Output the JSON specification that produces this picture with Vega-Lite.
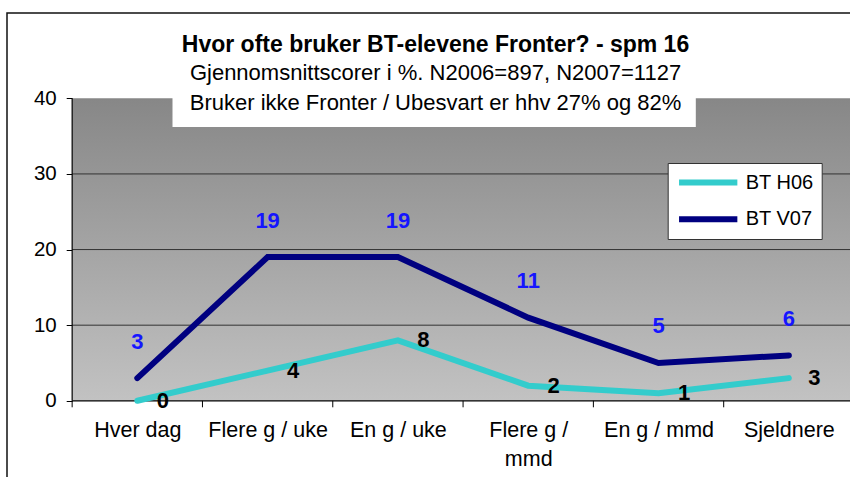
{
  "$schema": "https://vega.github.io/schema/vega-lite/v6.json",
  "autosize": "none",
  "width": 847,
  "height": 470,
  "padding": {"left": 7, "top": 13, "right": 0, "bottom": 0},
  "background": "white",
  "config": {
    "font": "Liberation Sans",
    "view": {"stroke": "#111", "strokeWidth": 1.5}
  },
  "title": {
    "text": "Hvor ofte bruker BT-elevene Fronter? - spm 16",
    "subtitle": ["Gjennomsnittscorer i %. N2006=897, N2007=1127", "Bruker ikke Fronter / Ubesvart er hhv 27% og 82%"],
    "anchor": "middle",
    "frame": "group",
    "orient": "top",
    "offset": -101,
    "dx": 5,
    "font": "Liberation Sans",
    "fontSize": 23,
    "fontWeight": "bold",
    "color": "black",
    "subtitleFont": "Liberation Sans",
    "subtitleFontSize": 22,
    "subtitleColor": "black",
    "subtitleLineHeight": 30,
    "subtitlePadding": 6
  },
  "datasets": {
    "series": [
      {"kategori": "Hver dag", "pos": 0, "serie": "BT H06", "verdi": 0},
      {"kategori": "Flere g / uke", "pos": 1, "serie": "BT H06", "verdi": 4},
      {"kategori": "En g / uke", "pos": 2, "serie": "BT H06", "verdi": 8},
      {"kategori": "Flere g / mmd", "pos": 3, "serie": "BT H06", "verdi": 2},
      {"kategori": "En g / mmd", "pos": 4, "serie": "BT H06", "verdi": 1},
      {"kategori": "Sjeldnere", "pos": 5, "serie": "BT H06", "verdi": 3},
      {"kategori": "Hver dag", "pos": 0, "serie": "BT V07", "verdi": 3},
      {"kategori": "Flere g / uke", "pos": 1, "serie": "BT V07", "verdi": 19},
      {"kategori": "En g / uke", "pos": 2, "serie": "BT V07", "verdi": 19},
      {"kategori": "Flere g / mmd", "pos": 3, "serie": "BT V07", "verdi": 11},
      {"kategori": "En g / mmd", "pos": 4, "serie": "BT V07", "verdi": 5},
      {"kategori": "Sjeldnere", "pos": 5, "serie": "BT V07", "verdi": 6}
    ],
    "grid": [{"v": 10}, {"v": 20}, {"v": 30}],
    "xticks": [{"t": -0.5}, {"t": 0.5}, {"t": 1.5}, {"t": 2.5}, {"t": 3.5}, {"t": 4.5}, {"t": 5.5}],
    "one": [{"id": 1}]
  },
  "data": {"name": "series"},
  "layer": [
    {
      "data": {"name": "one"},
      "mark": {"type": "rect", "color": {"gradient": "linear", "x1": 0, "y1": 0, "x2": 0, "y2": 1, "stops": [{"offset": 0, "color": "#878787"}, {"offset": 1, "color": "#c2c2c2"}]}},
      "encoding": {
        "x": {"datum": -0.5, "type": "quantitative", "scale": {"domain": [-1, 5.5], "nice": false, "zero": false},
          "axis": {"values": [0, 1, 2, 3, 4, 5], "orient": "bottom", "offset": -82.2, "domain": false, "ticks": false, "grid": false, "title": null,
            "labelExpr": "datum.value == 0 ? 'Hver dag' : datum.value == 1 ? 'Flere g / uke' : datum.value == 2 ? 'En g / uke' : datum.value == 3 ? ['Flere g /', 'mmd'] : datum.value == 4 ? 'En g / mmd' : 'Sjeldnere'",
            "labelFont": "Liberation Sans", "labelFontSize": 21.5, "labelColor": "black", "labelPadding": 19, "labelLineHeight": 29, "labelAngle": 0}},
        "x2": {"datum": 5.6},
        "y": {"datum": 0, "type": "quantitative", "scale": {"domain": [-10.87, 51.28], "nice": false, "zero": false},
          "axis": {"values": [0, 10, 20, 30, 40], "orient": "left", "offset": -65.2, "domain": false, "grid": false, "ticks": true, "tickSize": 6, "tickColor": "black", "title": null,
            "labelFont": "Liberation Sans", "labelFontSize": 20.5, "labelColor": "black", "labelPadding": 10}},
        "y2": {"datum": 40}
      }
    },
    {
      "data": {"name": "grid"},
      "mark": {"type": "rule", "color": "#333333", "strokeWidth": 1},
      "encoding": {
        "y": {"field": "v", "type": "quantitative"},
        "x": {"datum": -0.5, "type": "quantitative"},
        "x2": {"datum": 5.6}
      }
    },
    {
      "data": {"name": "one"},
      "mark": {"type": "rect", "color": "white"},
      "encoding": {
        "x": {"datum": 0.27, "type": "quantitative"},
        "x2": {"datum": 4.286},
        "y": {"datum": 36.2, "type": "quantitative"},
        "y2": {"datum": 40.3}
      }
    },
    {
      "data": {"name": "one"},
      "mark": {"type": "rule", "color": "black", "strokeWidth": 1.2},
      "encoding": {
        "x": {"datum": -0.5, "type": "quantitative"},
        "y": {"datum": 0, "type": "quantitative"},
        "y2": {"datum": 40}
      }
    },
    {
      "data": {"name": "one"},
      "mark": {"type": "rule", "color": "black", "strokeWidth": 1.2},
      "encoding": {
        "x": {"datum": -0.5, "type": "quantitative"},
        "x2": {"datum": 5.6},
        "y": {"datum": 0, "type": "quantitative"}
      }
    },
    {
      "data": {"name": "xticks"},
      "mark": {"type": "rule", "color": "black", "strokeWidth": 1},
      "encoding": {
        "x": {"field": "t", "type": "quantitative"},
        "y": {"datum": 0, "type": "quantitative"},
        "y2": {"datum": -0.86}
      }
    },
    {
      "mark": {"type": "line", "strokeWidth": 6, "strokeCap": "round"},
      "encoding": {
        "x": {"field": "pos", "type": "quantitative"},
        "y": {"field": "verdi", "type": "quantitative"},
        "color": {"field": "serie", "type": "nominal",
          "scale": {"domain": ["BT H06", "BT V07"], "range": ["#33CCCC", "#000080"]},
          "legend": {"orient": "none", "legendX": 660.7, "legendY": 150, "title": null,
            "symbolType": "stroke", "symbolSize": 3400, "symbolStrokeWidth": 6, "clipHeight": 23,
            "labelFont": "Liberation Sans", "labelFontSize": 20, "labelColor": "black",
            "fillColor": "white", "strokeColor": "#333333", "padding": 8, "rowPadding": 13.7, "labelOffset": 5}}
      }
    },
    {
      "transform": [{"filter": "datum.serie == 'BT V07'"}],
      "mark": {"type": "text", "dy": -36.5, "fontSize": 22, "fontWeight": "bold", "color": "#1515ff", "align": "center", "baseline": "middle"},
      "encoding": {
        "x": {"field": "pos", "type": "quantitative"},
        "y": {"field": "verdi", "type": "quantitative"},
        "text": {"field": "verdi", "type": "quantitative"}
      }
    },
    {
      "transform": [{"filter": "datum.serie == 'BT H06'"}],
      "mark": {"type": "text", "dx": 25.5, "dy": 0, "fontSize": 22, "fontWeight": "bold", "color": "black", "align": "center", "baseline": "middle"},
      "encoding": {
        "x": {"field": "pos", "type": "quantitative"},
        "y": {"field": "verdi", "type": "quantitative"},
        "text": {"field": "verdi", "type": "quantitative"}
      }
    }
  ]
}
